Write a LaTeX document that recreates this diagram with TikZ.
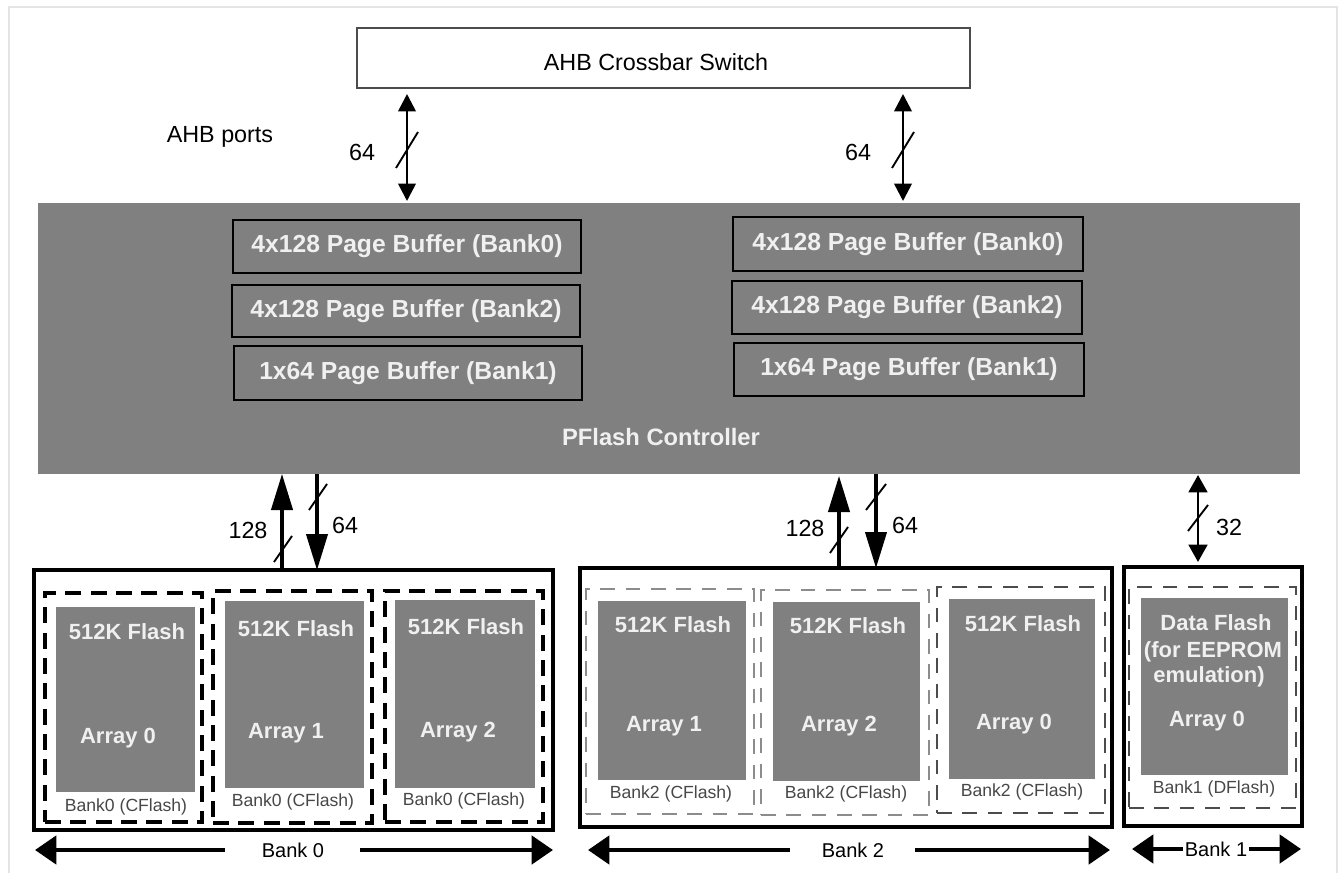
\documentclass[tikz,border=0pt]{standalone}
\usepackage{fontspec}
\setmainfont{Liberation Sans}
\usetikzlibrary{arrows.meta}
\definecolor{cg}{RGB}{128,128,128}
\definecolor{tw}{RGB}{240,240,240}
\definecolor{fr}{RGB}{228,228,228}
\newcommand{\rbox}[6]{\node[#2, inner sep=0pt, outer sep=0pt, anchor=north west, minimum width={(#5-#3)*0.75pt}, minimum height={(#6-#4)*0.75pt}] (#1) at (#3,#4) {};}
\newcommand{\busslash}[4]{\draw[line width=1.4pt] ({#1-#3},{#2+#4}) -- ({#1+#3},{#2-#4});}
\begin{document}
\begin{tikzpicture}[x=0.75pt,y=-0.75pt,
  big/.style={font=\fontsize{17.5}{20}\selectfont},
  bigb/.style={font=\fontsize{17.8}{20}\selectfont\bfseries, text=tw},
  buftxt/.style={font=\fontsize{18.5}{21}\selectfont\bfseries, text=tw},
  flashtxt/.style={font=\fontsize{16.5}{19}\selectfont\bfseries, text=tw, inner sep=0pt},
  small/.style={font=\fontsize{13.2}{15}\selectfont, text=black!72},
  buf/.style={fill=cg, draw=black, line width=1.7pt},
  ctrl/.style={fill=cg, draw=none},
  arrbox/.style={fill=cg, draw=none},
  bank/.style={draw=black, line width=2.4pt},
  dsh0/.style={draw=black, line width=2.8pt, dash pattern=on 12pt off 7pt},
  dsh2/.style={draw=black!45, line width=1.2pt, dash pattern=on 11pt off 8pt},
  dsh1/.style={draw=black!70, line width=1.2pt, dash pattern=on 11pt off 8pt},
  bus/.style={line width=2pt, {Triangle[length=13pt,width=13pt]}-{Triangle[length=13pt,width=13pt]}},
  bus1/.style={line width=2pt, {Triangle[length=13pt,width=14pt]}-{Triangle[length=13pt,width=14pt]}},
  wide/.style={line width=2.3pt, -{Triangle[length=27pt,width=16pt]}},
  bankarr/.style={line width=3.5pt, -{Triangle[length=16pt,width=21pt]}},
]
\useasboundingbox (0,0) rectangle (1338,873);
% faint frame
\draw[fr, line width=1.5pt] (9,873) -- (9,7) -- (1337,7) -- (1337,873);

% crossbar
\rbox{xbar}{draw=black!70, line width=0.8pt, fill=white}{357}{28}{970}{88}
\node[big] (xbart) at (656,62) {AHB Crossbar Switch};
\node[big] (ports) at (220,137) {AHB ports};

% controller
\rbox{ctrl}{ctrl}{38}{203}{1300}{474}
\node[bigb] (ctrlt) at (661,437) {PFlash Controller};

% page buffers
\rbox{bl1}{buf}{233}{220}{581}{273}
\rbox{bl2}{buf}{232}{285}{580}{337}
\rbox{bl3}{buf}{234}{346}{582}{400}
\rbox{br1}{buf}{733}{217}{1083}{271}
\rbox{br2}{buf}{732}{281}{1082}{334}
\rbox{br3}{buf}{734}{343}{1084}{396}
\node[buftxt] at (bl1.center) {4x128 Page Buffer (Bank0)};
\node[buftxt] at (bl2.center) {4x128 Page Buffer (Bank2)};
\node[buftxt] at (bl3.center) {1x64 Page Buffer (Bank1)};
\node[buftxt] at (br1.center) {4x128 Page Buffer (Bank0)};
\node[buftxt] at (br2.center) {4x128 Page Buffer (Bank2)};
\node[buftxt] at (br3.center) {1x64 Page Buffer (Bank1)};

% top buses
\coordinate (tA1) at (407,94); \coordinate (tA2) at (407,201);
\coordinate (tB1) at (903,94); \coordinate (tB2) at (903,201);
\draw[bus] (tA1) -- (tA2);
\draw[bus] (tB1) -- (tB2);
\busslash{407}{150}{11}{18}
\busslash{903}{150}{11}{18}
\node[big] (n64a) at (362,152) {64};
\node[big] (n64b) at (858,152) {64};

% banks
\rbox{bank0}{bank}{34}{570}{553}{830}
\rbox{bank2}{bank}{580}{568}{1112}{827}
\rbox{bank1}{bank}{1124}{567}{1302}{826}

% bank0 content
\rbox{d01}{dsh0}{45}{593}{202}{822}
\rbox{d02}{dsh0}{213}{591}{372}{823}
\rbox{d03}{dsh0}{385}{591}{543}{822}
\rbox{a01}{arrbox}{56}{607}{195}{792}
\rbox{a02}{arrbox}{225}{601}{364}{788}
\rbox{a03}{arrbox}{395}{600}{535}{788}
\node[flashtxt] at (127,632) {512K Flash};
\node[flashtxt] at (296,629) {512K Flash};
\node[flashtxt] at (466,627) {512K Flash};
\node[flashtxt] at (118,738) {Array 0};
\node[flashtxt] at (286,733) {Array 1};
\node[flashtxt] at (458,732) {Array 2};
\node[small] at (126,807) {Bank0 (CFlash)};
\node[small] at (293,802) {Bank0 (CFlash)};
\node[small] at (464,801) {Bank0 (CFlash)};

% bank2 content
\rbox{d21}{dsh2}{586}{589}{754}{814}
\rbox{d22}{dsh2}{761}{590}{929}{815}
\rbox{d23}{dsh1}{937}{587}{1105}{813}
\rbox{a21}{arrbox}{598}{601}{746}{780}
\rbox{a22}{arrbox}{773}{602}{920}{781}
\rbox{a23}{arrbox}{949}{599}{1095}{779}
\node[flashtxt] at (673,625) {512K Flash};
\node[flashtxt] at (848,626) {512K Flash};
\node[flashtxt] at (1023,624) {512K Flash};
\node[flashtxt] at (664,726) {Array 1};
\node[flashtxt] at (839,726) {Array 2};
\node[flashtxt] at (1014,724) {Array 0};
\node[small] at (671,794) {Bank2 (CFlash)};
\node[small] at (846,794) {Bank2 (CFlash)};
\node[small] at (1022,792) {Bank2 (CFlash)};

% bank1 content
\rbox{d11}{dsh1}{1129}{587}{1296}{808}
\rbox{a11}{arrbox}{1141}{598}{1288}{775}
\node[flashtxt] at (1216,623) {Data Flash};
\node[flashtxt] at (1213,652) {(for EEPROM};
\node[flashtxt] at (1209,677) {emulation)};
\node[flashtxt] at (1207,721) {Array 0};
\node[small] at (1214,789) {Bank1 (DFlash)};

% lower buses
\coordinate (u0a) at (282,570); \coordinate (u0b) at (282,474);
\coordinate (d0a) at (317,474); \coordinate (d0b) at (317,570);
\draw[wide] (u0a) -- (u0b);
\draw[wide] (d0a) -- (d0b);
\busslash{283}{549}{9}{13}
\busslash{318}{497}{9}{13}
\node[big] (l128a) at (248,530) {128};
\node[big] (l64a) at (345,525) {64};

\coordinate (u2a) at (839,568); \coordinate (u2b) at (839,476);
\coordinate (d2a) at (876,474); \coordinate (d2b) at (876,568);
\draw[wide] (u2a) -- (u2b);
\draw[wide] (d2a) -- (d2b);
\busslash{839}{540}{9}{13}
\busslash{876}{497}{10}{13}
\node[big] (l128b) at (805,528) {128};
\node[big] (l64b) at (905,525) {64};

\coordinate (b1a) at (1198,475); \coordinate (b1b) at (1198,562);
\draw[bus1] (b1a) -- (b1b);
\busslash{1198}{518}{10}{13}
\node[big] (l32) at (1229,527) {32};

% bottom bank arrows
\node[font=\fontsize{15}{18}\selectfont] (lb0) at (293,850) {Bank 0};
\coordinate (b0l1) at (225,850); \coordinate (b0l2) at (35,850);
\coordinate (b0r1) at (360,850); \coordinate (b0r2) at (553,850);
\draw[bankarr] (b0l1) -- (b0l2);
\draw[bankarr] (b0r1) -- (b0r2);

\node[font=\fontsize{15}{18}\selectfont] (lb2) at (853,850) {Bank 2};
\coordinate (b2l1) at (790,850); \coordinate (b2l2) at (588,850);
\coordinate (b2r1) at (915,850); \coordinate (b2r2) at (1110,850);
\draw[bankarr] (b2l1) -- (b2l2);
\draw[bankarr] (b2r1) -- (b2r2);

\node[font=\fontsize{15}{18}\selectfont, inner sep=1pt] (lb1) at (1216,849) {Bank 1};
\draw[bankarr] (lb1.west) -- (1132,849);
\draw[bankarr] (lb1.east) -- (1301,849);
\end{tikzpicture}
\end{document}
